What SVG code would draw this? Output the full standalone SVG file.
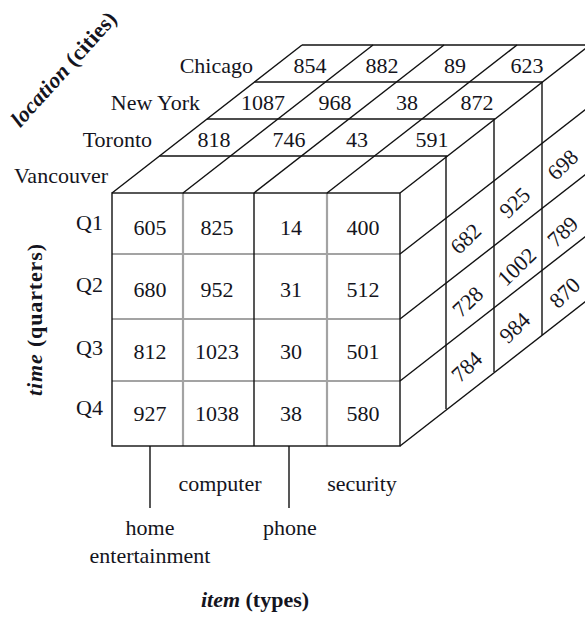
<svg xmlns="http://www.w3.org/2000/svg" width="585" height="617" viewBox="0 0 585 617">
  <style>
    .edge { stroke: #111; stroke-width: 1.4; fill: none; }
    .soft { stroke: #a3a3a3; stroke-width: 2.2; fill: none; }
    text { font-family: "Liberation Serif", "Times New Roman", serif; font-size: 22px; fill: #141420; }
    .num { text-anchor: middle; }
    .lab { text-anchor: end; }
    .title { font-weight: bold; }
    .title .it { font-style: italic; }
  </style>

  <!-- cube edges and cell dividers -->
  <g id="connectors">
    <!-- front face grid (time x item) -->
    <line class="soft" x1="183" y1="193" x2="183" y2="446"/>
    <line class="soft" x1="327" y1="193" x2="327" y2="446"/>
    <line class="soft" x1="112" y1="254" x2="400" y2="254"/>
    <line class="soft" x1="112" y1="319" x2="400" y2="319"/>
    <line class="soft" x1="112" y1="381" x2="400" y2="381"/>
    <line class="edge" x1="254" y1="193" x2="254" y2="446"/>
    <rect class="edge" x="112" y="193" width="288" height="253"/>

    <!-- top face: item dividers receding in depth -->
    <line class="edge" x1="112" y1="193" x2="302" y2="45"/>
    <line class="edge" x1="183" y1="193" x2="373" y2="45"/>
    <line class="edge" x1="254" y1="193" x2="444" y2="45"/>
    <line class="edge" x1="327" y1="193" x2="517" y2="45"/>
    <line class="edge" x1="400" y1="193" x2="590" y2="45"/>
    <!-- top face: location layers -->
    <line class="edge" x1="159.5" y1="156" x2="447.5" y2="156"/>
    <line class="edge" x1="207" y1="119" x2="495" y2="119"/>
    <line class="edge" x1="254.5" y1="82" x2="542.5" y2="82"/>
    <line class="edge" x1="302" y1="45" x2="590" y2="45"/>

    <!-- right face: location layers -->
    <line class="edge" x1="446" y1="156" x2="446" y2="409"/>
    <line class="edge" x1="494" y1="119" x2="494" y2="372"/>
    <line class="edge" x1="542" y1="82" x2="542" y2="335"/>
    <!-- right face: quarter rows -->
    <line class="edge" x1="400" y1="254" x2="590" y2="106"/>
    <line class="edge" x1="400" y1="319" x2="590" y2="171"/>
    <line class="edge" x1="400" y1="381" x2="590" y2="233"/>
    <line class="edge" x1="400" y1="446" x2="590" y2="298"/>

    <!-- item category ticks -->
    <line class="edge" x1="150" y1="446" x2="150" y2="508"/>
    <line class="edge" x1="289" y1="446" x2="289" y2="508"/>
  </g>

  <!-- location labels -->
  <g id="locations">
    <text class="lab" x="253" y="73">Chicago</text>
    <text class="lab" x="200" y="110">New York</text>
    <text class="lab" x="152" y="147">Toronto</text>
    <text class="lab" x="108" y="183">Vancouver</text>
  </g>

  <!-- time labels -->
  <g id="quarters">
    <text class="lab" x="103" y="230">Q1</text>
    <text class="lab" x="103" y="292">Q2</text>
    <text class="lab" x="103" y="355">Q3</text>
    <text class="lab" x="103" y="415">Q4</text>
  </g>

  <!-- front face values (Vancouver) -->
  <g id="front-values">
    <text class="num" x="150" y="235">605</text>
    <text class="num" x="217" y="235">825</text>
    <text class="num" x="291" y="235">14</text>
    <text class="num" x="363" y="235">400</text>
    <text class="num" x="150" y="297">680</text>
    <text class="num" x="217" y="297">952</text>
    <text class="num" x="291" y="297">31</text>
    <text class="num" x="363" y="297">512</text>
    <text class="num" x="150" y="359">812</text>
    <text class="num" x="217" y="359">1023</text>
    <text class="num" x="291" y="359">30</text>
    <text class="num" x="363" y="359">501</text>
    <text class="num" x="150" y="421">927</text>
    <text class="num" x="217" y="421">1038</text>
    <text class="num" x="291" y="421">38</text>
    <text class="num" x="363" y="421">580</text>
  </g>

  <!-- top face values -->
  <g id="top-values">
    <text class="num" x="310" y="73">854</text>
    <text class="num" x="382" y="73">882</text>
    <text class="num" x="455" y="73">89</text>
    <text class="num" x="527" y="73">623</text>
    <text class="num" x="263" y="110">1087</text>
    <text class="num" x="335" y="110">968</text>
    <text class="num" x="407" y="110">38</text>
    <text class="num" x="477" y="110">872</text>
    <text class="num" x="214" y="147">818</text>
    <text class="num" x="289" y="147">746</text>
    <text class="num" x="357" y="147">43</text>
    <text class="num" x="432" y="147">591</text>
  </g>

  <!-- right face values -->
  <g id="side-values">
    <text class="num" transform="translate(466,239) rotate(-44)" y="7">682</text>
    <text class="num" transform="translate(515,203) rotate(-44)" y="7">925</text>
    <text class="num" transform="translate(563,165) rotate(-44)" y="7">698</text>
    <text class="num" transform="translate(468,302) rotate(-44)" y="7">728</text>
    <text class="num" transform="translate(517,267) rotate(-44)" y="7">1002</text>
    <text class="num" transform="translate(563,232) rotate(-44)" y="7">789</text>
    <text class="num" transform="translate(467,367) rotate(-44)" y="7">784</text>
    <text class="num" transform="translate(515,328) rotate(-44)" y="7">984</text>
    <text class="num" transform="translate(565,293) rotate(-44)" y="7">870</text>
  </g>

  <!-- item labels -->
  <g id="items">
    <text class="num" x="220" y="491">computer</text>
    <text class="num" x="362" y="491">security</text>
    <text class="num" x="150" y="535">home</text>
    <text class="num" x="150" y="563">entertainment</text>
    <text class="num" x="290" y="535">phone</text>
  </g>

  <!-- dimension titles -->
  <g id="axis-titles">
    <text class="title num" transform="translate(69,74) rotate(-48)" textLength="146" lengthAdjust="spacing"><tspan class="it">location</tspan> (cities)</text>
    <text class="title num" transform="translate(42,320) rotate(-90)" textLength="152" lengthAdjust="spacing"><tspan class="it">time</tspan> (quarters)</text>
    <text class="title num" x="255" y="607"><tspan class="it">item</tspan> (types)</text>
  </g>
</svg>
